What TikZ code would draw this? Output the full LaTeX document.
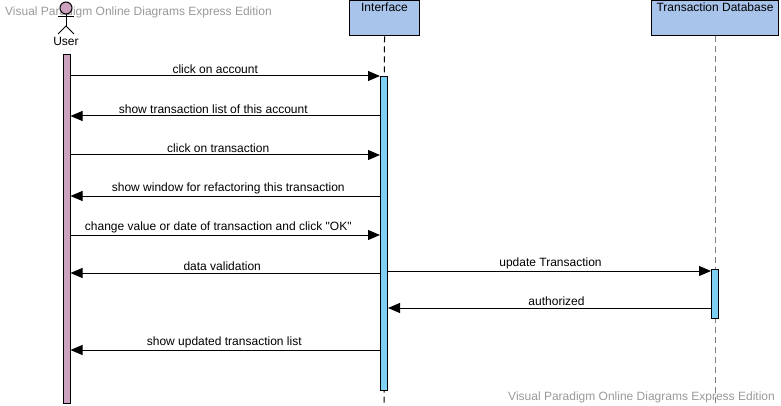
\documentclass[tikz,border=0pt]{standalone}
\usepackage{fontspec}
\setmainfont{Liberation Sans}
\newfontfamily\plainquote{Liberation Sans}
\usepackage{xcolor}
\usepackage{tikz}
\usetikzlibrary{arrows.meta}
\usetikzlibrary{positioning}

\definecolor{userpink}{HTML}{CDA2BE}
\definecolor{headblue}{HTML}{A9C4EB}
\definecolor{barblue}{HTML}{7FD0F5}
\definecolor{markgray}{HTML}{999999}

\tikzset{
  head/.style={draw, fill=headblue, line width=1pt, minimum height=35pt, inner sep=0pt},
  headtext/.style={font=\fontsize{12}{14}\selectfont, inner sep=0pt, anchor=north},
  actbar/.style={draw, line width=1pt, minimum width=7pt, inner sep=0pt, anchor=north},
  lifeline/.style={line width=1pt, dash pattern=on 6pt off 4pt},
  msg/.style={line width=1pt, -{Triangle[length=12pt,width=10pt]}},
  msgtext/.style={font=\fontsize{12}{14}\selectfont, above=1pt, inner sep=1pt},
  wmark/.style={text=markgray, font=\fontsize{12}{14}\selectfont, inner sep=0pt}
}

\begin{document}
\begin{tikzpicture}[x=1pt,y=-1pt]
	 \useasboundingbox (0,0) rectangle (781,406);
	 % watermarks
	 \node[wmark, anchor=west] (wm1) at (5,12) {Visual Paradigm Online Diagrams Express Edition};
	 \node[wmark, anchor=east] (wm2) at (775,397) {Visual Paradigm Online Diagrams Express Edition};
	 % user actor
	 \node[draw, circle, fill=userpink, line width=1pt, minimum size=12pt, inner sep=0pt] (uhead) at (66,8) {};
	 \coordinate (hip) at (66,26);
	 \coordinate (armL) at (58,17);
	 \coordinate (armR) at (74,17);
	 \coordinate (footL) at (58,34);
	 \coordinate (footR) at (74,34);
	 \draw[line width=1pt] (uhead.south) -- (hip);
	 \draw[line width=1pt] (armL) -- (armR);
	 \draw[line width=1pt] (footL) -- (hip) -- (footR);
	 \node[headtext] (user) at (66,37) {User};
	 % heads
	 \node[head, minimum width=70pt, anchor=north west] (iface) at (349,0.5) {};
	 \node[headtext] at (iface.north) [yshift=-2pt] {Interface};
	 \node[head, minimum width=127pt, anchor=north west] (tdb) at (651,0.5) {};
	 \node[headtext] at (tdb.north) [yshift=-2pt] {Transaction Database};
	 % lifelines
	 \coordinate (iend) at (384,406);
	 \coordinate (dend) at (715,406);
	 \draw[lifeline] (iface.south) -- (iend);
	 \draw[lifeline, gray] (tdb.south) -- (dend);
	 % activation bars
	 \node[actbar, fill=userpink, minimum height=349pt] (ubar) at (66.5,54) {};
	 \node[actbar, fill=barblue, minimum height=314pt] (ibar) at (384,76) {};
	 \node[actbar, fill=barblue, minimum height=49pt] (dbar) at (715,269) {};
	 % messages
	 \coordinate (m1) at (0,76);
	 \coordinate (m2) at (0,116);
	 \coordinate (m3) at (0,155);
	 \coordinate (m4) at (0,196);
	 \coordinate (m5) at (0,235);
	 \coordinate (m6) at (0,273);
	 \coordinate (m7) at (0,271);
	 \coordinate (m8) at (0,308);
	 \coordinate (m9) at (0,350);
	 \draw[msg] (ubar.east |- m1) -- node[msgtext, xshift=-10pt] {click on account} (ibar.west |- m1);
	 \draw[msg] (ibar.west |- m2) -- node[msgtext, xshift=-12pt] {show transaction list of this account} (ubar.east |- m2);
	 \draw[msg] (ubar.east |- m3) -- node[msgtext, xshift=-7pt] {click on transaction} (ibar.west |- m3);
	 \draw[msg] (ibar.west |- m4) -- node[msgtext, xshift=3pt] {show window for refactoring this transaction} (ubar.east |- m4);
	 \draw[msg] (ubar.east |- m5) -- node[msgtext, xshift=-7pt] {\plainquote change value or date of transaction and click "OK"} (ibar.west |- m5);
	 \draw[msg] (ibar.west |- m6) -- node[msgtext, xshift=-3pt] {data validation} (ubar.east |- m6);
	 \draw[msg] (ibar.east |- m7) -- node[msgtext, xshift=1pt] {update Transaction} (dbar.west |- m7);
	 \draw[msg] (dbar.west |- m8) -- node[msgtext, xshift=7pt] {authorized} (ibar.east |- m8);
	 \draw[msg] (ibar.west |- m9) -- node[msgtext, xshift=-1pt] {show updated transaction list} (ubar.east |- m9);
\end{tikzpicture}
\end{document}
